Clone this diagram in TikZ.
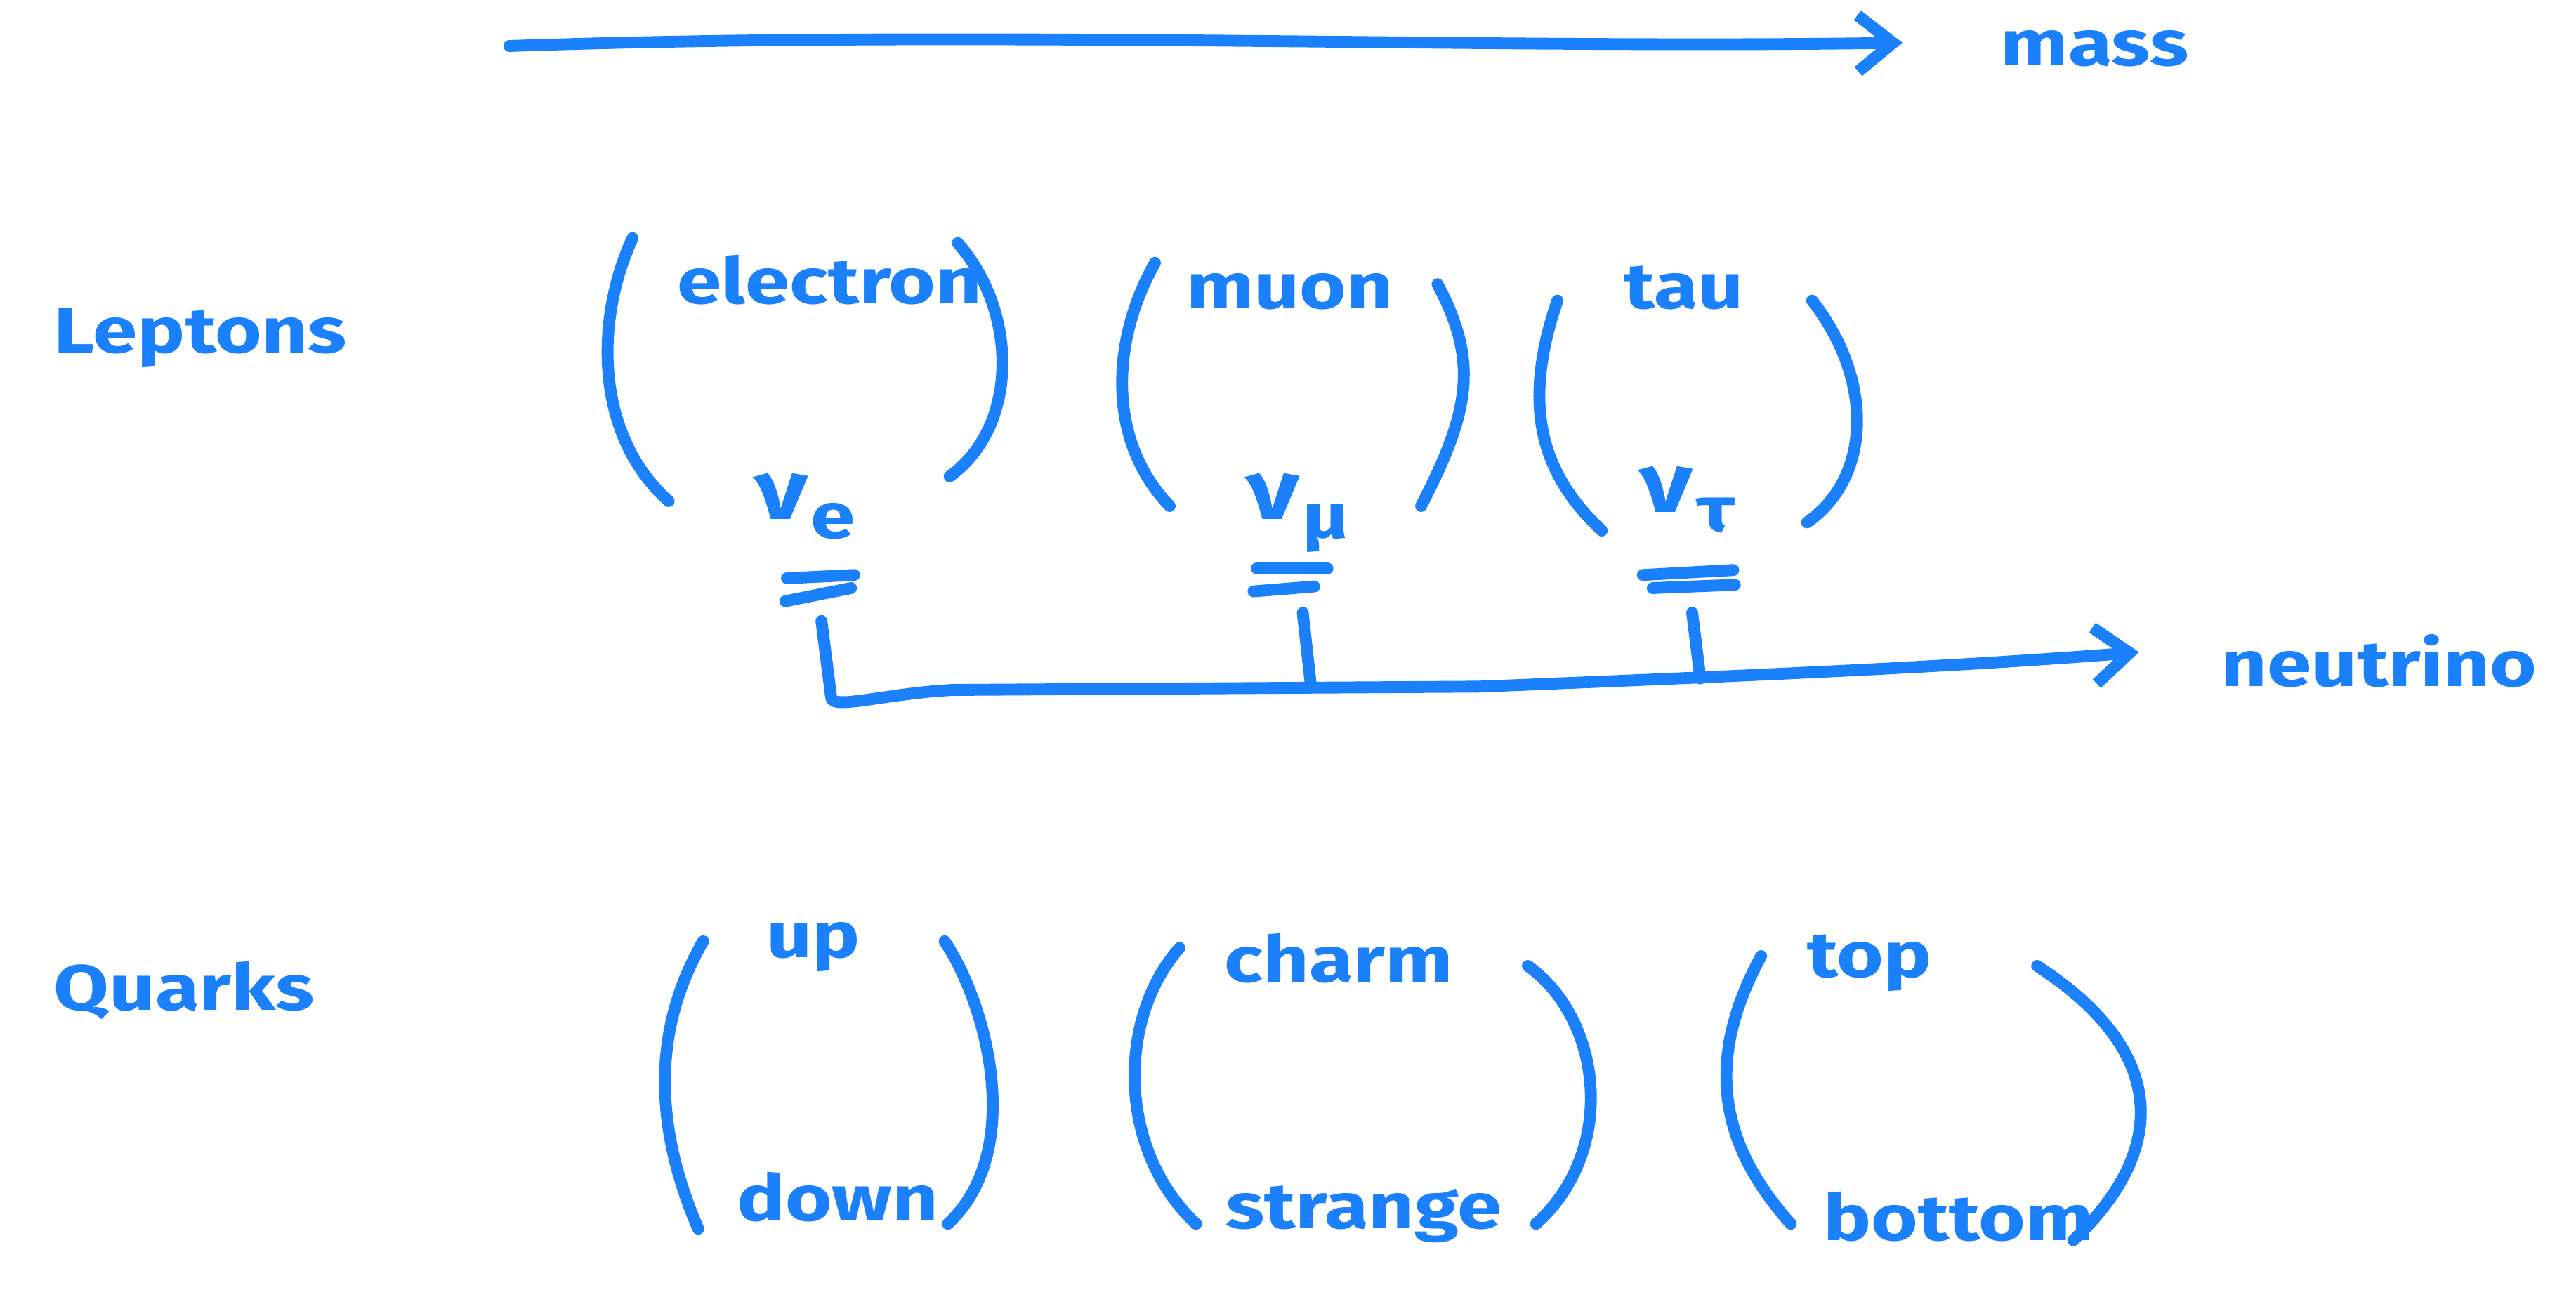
\documentclass[tikz,border=0pt]{standalone}
\usepackage{fontspec}
\setmainfont{Fira Sans}
\usetikzlibrary{arrows.meta, positioning}
\definecolor{pen}{RGB}{26,128,251}
\tikzset{
  ink/.style = {draw=pen, line width=4.8pt, line cap=round, line join=round},
  word/.style = {text=pen, font=\fontsize{26}{30}\selectfont\bfseries, inner sep=0pt, anchor=base, xscale=1.25},
  barb/.style = {-{Straight Barb[length=5mm, width=8mm]}}
}
\newcommand{\nuof}[1]{{\fontsize{34}{34}\selectfont ν}\kern1pt\raisebox{-0.3em}{#1}}

\begin{document}
\begin{tikzpicture}[x=0.023393cm, y=-0.023393cm]
  \useasboundingbox (0,0) rectangle (1568,785);

  %% Mass axis
  \coordinate (mass-tip) at (1158,26);
  \draw[ink, barb] (310,28) .. controls (600,18) and (900,30) .. (mass-tip);
  \node[word] (mass) at (1275,40) {mass};

  %% Leptons
  \node[word] (leptons) at (122,215) {Leptons};
  \node[word] (electron) at (505,185) {electron};
  \node[word] (muon) at (785,188) {muon};
  \node[word] (tau) at (1025,188) {tau};
  \node[word] (nue) at (490,316) {\nuof{e}};
  \node[word] (numu) at (790,316) {\nuof{μ}};
  \node[word] (nutau) at (1027,312) {\nuof{τ}};

  % Brackets | electron
  \draw[ink] (385,145) .. controls (362,195) and (362,265) .. (407,305);
  \draw[ink] (583,148) .. controls (620,190) and (620,260) .. (578,290);

  % Brackets | muon
  \draw[ink] (703,160) .. controls (675,210) and (675,270) .. (712,308);
  \draw[ink] (875,173) .. controls (900,220) and (895,250) .. (865,308);

  % Brackets | tau
  \draw[ink] (948,183) .. controls (925,250) and (940,290) .. (975,323);
  \draw[ink] (1103,183) .. controls (1140,230) and (1140,290) .. (1100,318);

  % Double underlines
  \draw[ink] (479,352) -- (520,350) (478,366) -- (518,358);
  \draw[ink] (765,346) -- (808,346) (763,360) -- (800,357);
  \draw[ink] (1000,350) -- (1055,347) (1006,358) -- (1056,356);

  %% Neutrino bus
  \node[word] (neutrino) at (1448,418) {neutrino};
  \coordinate (nu-tip) at (1302,397);
  \draw[ink, barb] (500,378) -- (506,425) .. controls (508,432) and (540,422) .. (580,420)
    -- (900,418) .. controls (1100,410) and (1200,405) .. (nu-tip);
  \draw[ink] (793,373) -- (798,418);
  \draw[ink] (1030,373) -- (1035,413);

  %% Quarks
  \node[word] (quarks) at (112,615) {Quarks};
  \node[word] (up) at (495,583) {up};
  \node[word] (down) at (510,743) {down};
  \node[word] (charm) at (815,598) {charm};
  \node[word] (strange) at (830,748) {strange};
  \node[word] (top) at (1138,595) {top};
  \node[word] (bottom) at (1192,755) {bottom};

  % Brackets | up, down
  \draw[ink] (428,573) .. controls (395,630) and (400,690) .. (425,748);
  \draw[ink] (575,573) .. controls (600,610) and (625,700) .. (577,745);

  % Brackets | charm, strange
  \draw[ink] (718,577) .. controls (680,620) and (680,700) .. (728,745);
  \draw[ink] (930,588) .. controls (975,620) and (985,700) .. (935,745);

  % Brackets | top, bottom
  \draw[ink] (1072,582) .. controls (1035,650) and (1050,700) .. (1090,745);
  \draw[ink] (1240,588) .. controls (1320,640) and (1320,700) .. (1262,755);

\end{tikzpicture}
\end{document}
